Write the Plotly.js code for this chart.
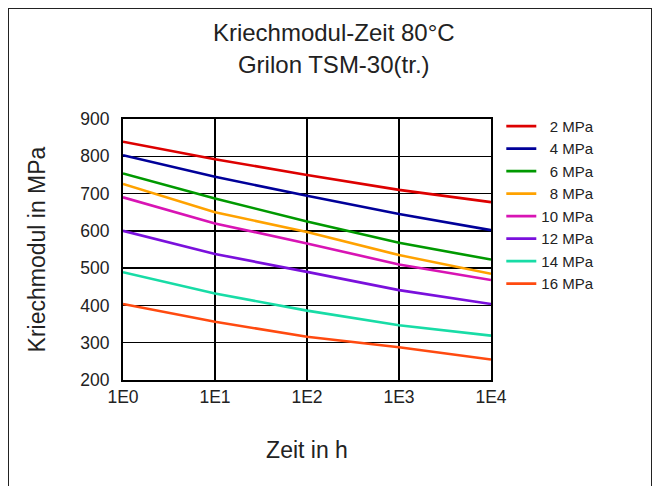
<!DOCTYPE html>
<html>
<head>
<meta charset="utf-8">
<script src="https://cdn.plot.ly/plotly-3.0.1.min.js"></script>
<style>
html,body{margin:0;padding:0;background:#fff;}
#chart{width:657px;height:486px;}
#frame{position:absolute;left:8px;top:8px;width:642px;height:500px;border:1.5px solid #222;pointer-events:none;}
</style>
</head>
<body>
<div id="chart"></div>
<div id="frame"></div>
<script>
// Time in hours (log axis)
const times = [1, 10, 100, 1000, 10000];
const tickVals = [1, 10, 100, 1000, 10000];
const tickText = ['1E0', '1E1', '1E2', '1E3', '1E4'];

// Series labels (MPa)
const seriesNames = ['\u00a0\u00a02 MPa', '\u00a0\u00a04 MPa', '\u00a0\u00a06 MPa', '\u00a0\u00a08 MPa', '10 MPa', '12 MPa', '14 MPa', '16 MPa'];

// Creep modulus values (MPa) at each time
const mpa2  = [839, 792, 750, 710, 677];
const mpa4  = [803, 745, 694, 645, 602];
const mpa6  = [754, 687, 625, 568, 523];
const mpa8  = [726, 650, 597, 535, 485];
const mpa10 = [690, 620, 566, 510, 468];
const mpa12 = [600, 538, 490, 441, 404];
const mpa14 = [489, 432, 386, 347, 319];
const mpa16 = [404, 356, 316, 288, 255];

const seriesValues = [mpa2, mpa4, mpa6, mpa8, mpa10, mpa12, mpa14, mpa16];
const colors = ['#dd0000', '#000099', '#009900', '#ffa200', '#d814b4', '#7a10dc', '#18dca6', '#ff4a10'];

const traces = seriesValues.map((vals, i) => ({
  x: times,
  y: vals,
  name: seriesNames[i],
  type: 'scatter',
  mode: 'lines',
  line: {color: colors[i], width: 2.6}
}));

const font = "'Liberation Sans', Arial, sans-serif";

const layout = {
  width: 657,
  height: 486,
  margin: {l: 123, r: 166, t: 119, b: 106},
  paper_bgcolor: '#ffffff',
  plot_bgcolor: '#ffffff',
  font: {family: font, color: '#222', size: 16},
  title: {
    text: 'Kriechmodul-Zeit 80°C<br>Grilon TSM-30(tr.)',
    font: {family: font, size: 24, color: '#222'},
    xref: 'container', x: 0.508, xanchor: 'center',
    yref: 'container', y: 0.915, yanchor: 'top'
  },
  xaxis: {
    type: 'log',
    range: [0, 4],
    tickvals: tickVals,
    ticktext: tickText,
    showgrid: true,
    gridcolor: '#000',
    gridwidth: 1.5,
    showline: true,
    linecolor: '#000',
    linewidth: 2,
    mirror: true,
    ticks: '',
    zeroline: false,
    tickfont: {family: font, size: 17.5, color: '#222'},
    title: {text: 'Zeit in h', font: {family: font, size: 23, color: '#222'}, standoff: 36}
  },
  yaxis: {
    range: [200, 900],
    tickvals: [200, 300, 400, 500, 600, 700, 800, 900],
    showgrid: true,
    gridcolor: '#000',
    gridwidth: 1.5,
    showline: true,
    linecolor: '#000',
    linewidth: 2,
    mirror: true,
    ticks: '',
    zeroline: false,
    tickfont: {family: font, size: 17.5, color: '#222'},
    ticklabelstandoff: 8,
    title: {text: 'Kriechmodul in MPa', font: {family: font, size: 23, color: '#222'}, standoff: 28}
  },
  showlegend: true,
  legend: {
    x: 1.028, xanchor: 'left',
    y: 1.035, yanchor: 'top',
    font: {family: font, size: 15, color: '#222'},
    bgcolor: 'rgba(0,0,0,0)',
    borderwidth: 0,
    tracegroupgap: 0,
    itemwidth: 30
  }
};

Plotly.newPlot('chart', traces, layout, {displayModeBar: false, staticPlot: true});
</script>
</body>
</html>
